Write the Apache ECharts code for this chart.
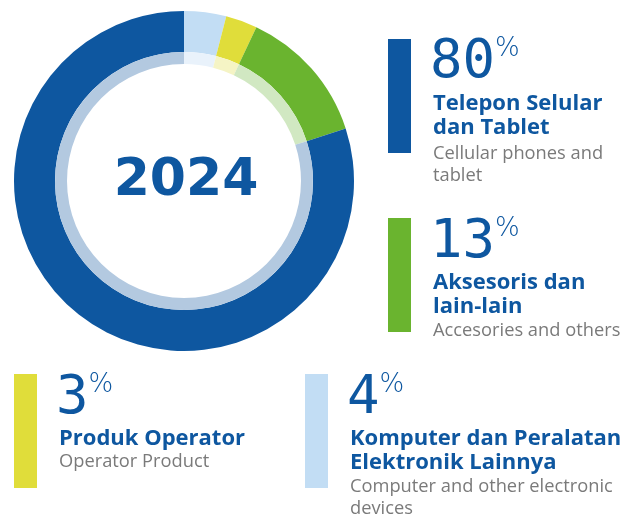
<!DOCTYPE html>
<html>
<head>
<meta charset="utf-8">
<script src="https://cdn.jsdelivr.net/npm/echarts@6/dist/echarts.min.js"></script>
<style>
html,body{margin:0;padding:0;background:#fff;}
#chart{width:638px;height:517px;}
</style>
</head>
<body>
<div id="chart"></div>
<script>
// ---- data ----
const categories = ['Telepon Selular\ndan Tablet', 'Aksesoris dan\nlain-lain', 'Produk Operator', 'Komputer dan Peralatan\nElektronik Lainnya'];
const englishLabels = ['Cellular phones and\ntablet', 'Accesories and others', 'Operator Product', 'Computer and other electronic\ndevices'];
const values = [80, 13, 3, 4];
const yearLabel = '2024';
// clockwise order around the ring starting at 12 o'clock
const ringOrder = [3, 2, 1, 0];

// ---- styles ----
const strongColors = ['#0e57a0', '#6ab42f', '#e0dd3a', '#c2ddf4'];
const paleColors = ['#b3c9e0', '#d1e8c2', '#f5f4c5', '#e9f2fb'];
const blue = '#0e57a0';
const gray = '#7a7a7a';
const center = [184, 181];

const chart = echarts.init(document.getElementById('chart'), null, {renderer: 'canvas'});

const outerData = ringOrder.map(i => ({name: categories[i], value: values[i], itemStyle: {color: strongColors[i]}}));
const innerData = ringOrder.map(i => ({name: categories[i], value: values[i], itemStyle: {color: paleColors[i]}}));

// legend block positions (layout only)
const blocks = [
  {bar: [388, 39, 23, 114], x: 433, pctTop: 36, headTop: 92, subTop: 143},
  {bar: [388, 218, 23, 114], x: 433, pctTop: 216, headTop: 271, subTop: 320},
  {bar: [14, 374, 23, 114], x: 59, pctTop: 372, headTop: 427, subTop: 451},
  {bar: [305, 374, 23, 114], x: 350, pctTop: 372, headTop: 427, subTop: 476}
];

const graphics = [];
blocks.forEach((b, i) => {
  graphics.push({
    type: 'rect', shape: {x: b.bar[0], y: b.bar[1], width: b.bar[2], height: b.bar[3]},
    style: {fill: strongColors[i]}
  });
  graphics.push({
    type: 'text', x: b.x - 3, y: b.pctTop,
    style: {
      text: '{n|' + values[i] + '}{p|%}',
      rich: {
        n: {fontFamily: 'DejaVu Sans Mono', fontSize: 54, lineHeight: 54, fill: blue, verticalAlign: 'top'},
        p: {fontFamily: 'DejaVu Sans', fontWeight: 200, fontSize: 26, lineHeight: 54, fill: blue, verticalAlign: 'top', padding: [0,0,22,0]}
      },
      verticalAlign: 'top', align: 'left'
    }
  });
  graphics.push({
    type: 'text', x: b.x, y: b.headTop,
    style: {text: categories[i], fontFamily: 'Open Sans', fontWeight: 'bold', fontSize: 22, lineHeight: 24, fill: blue, verticalAlign: 'top', align: 'left'}
  });
  graphics.push({
    type: 'text', x: b.x, y: b.subTop,
    style: {text: englishLabels[i], fontFamily: 'Open Sans', fontSize: 18.3, lineHeight: 22, fill: gray, verticalAlign: 'top', align: 'left'}
  });
});
graphics.push({
  type: 'text', x: 186, y: 181,
  style: {text: yearLabel, fontFamily: 'DejaVu Sans', fontWeight: 'bold', fontSize: 52, fill: blue, align: 'center', verticalAlign: 'middle'}
});

chart.setOption({
  animation: false,
  backgroundColor: '#fff',
  series: [
    {
      type: 'pie', center: center, radius: [129, 170], startAngle: 90, clockwise: true,
      label: {show: false}, labelLine: {show: false}, silent: true,
      itemStyle: {borderWidth: 0},
      data: outerData
    },
    {
      type: 'pie', center: center, radius: [117, 129], startAngle: 90, clockwise: true,
      label: {show: false}, labelLine: {show: false}, silent: true,
      itemStyle: {borderWidth: 0},
      data: innerData
    }
  ],
  graphic: graphics
});
</script>
</body>
</html>
